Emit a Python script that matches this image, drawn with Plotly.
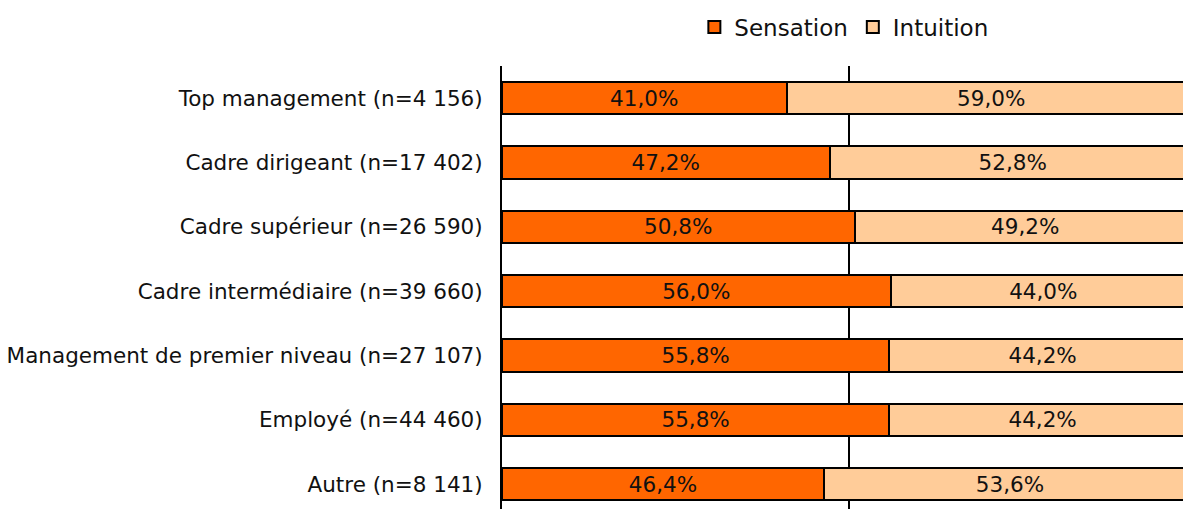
import plotly.graph_objects as go

categories = [
    "Top management (n=4 156)",
    "Cadre dirigeant (n=17 402)",
    "Cadre supérieur (n=26 590)",
    "Cadre intermédiaire (n=39 660)",
    "Management de premier niveau (n=27 107)",
    "Employé (n=44 460)",
    "Autre (n=8 141)",
]
sensation = [41.0, 47.2, 50.8, 56.0, 55.8, 55.8, 46.4]
intuition = [59.0, 52.8, 49.2, 44.0, 44.2, 44.2, 53.6]


def pct(values):
    return [f"{v:.1f}%".replace(".", ",") for v in values]


FONT = "DejaVu Sans, Verdana, sans-serif"
TXT = 21.5

fig = go.Figure()
fig.add_trace(go.Bar(
    name="Sensation", y=categories, x=sensation, orientation="h",
    marker=dict(color="#FF6600", line=dict(color="#000000", width=2)),
    text=pct(sensation), textposition="inside", insidetextanchor="middle",
    textfont=dict(color="#111111", size=TXT, family=FONT),
))
fig.add_trace(go.Bar(
    name="Intuition", y=categories, x=intuition, orientation="h",
    marker=dict(color="#FFCC99", line=dict(color="#000000", width=2)),
    text=pct(intuition), textposition="inside", insidetextanchor="middle",
    textfont=dict(color="#111111", size=TXT, family=FONT),
))

fig.update_layout(
    width=1183, height=509,
    margin=dict(l=502, r=0, t=66, b=0, pad=0),
    barmode="stack", bargap=0.5,
    plot_bgcolor="white", paper_bgcolor="white",
    font=dict(family=FONT, size=TXT, color="#111111"),
    legend=dict(
        orientation="h", traceorder="normal",
        x=0.502, xanchor="center",
        yref="container", y=1 - 27 / 509, yanchor="middle",
        font=dict(size=23, family=FONT, color="#111111"),
        itemwidth=30, tracegroupgap=0,
    ),
    xaxis=dict(
        range=[0, 98.13], tickvals=[50], showticklabels=False,
        showgrid=True, gridcolor="#000000", gridwidth=2,
        zeroline=False, showline=False, fixedrange=True,
    ),
    yaxis=dict(
        categoryorder="array", categoryarray=categories,
        range=[6.386, -0.5], showline=True, linecolor="#000000", linewidth=2,
        ticks="", ticklabelstandoff=13, showgrid=False,
        tickfont=dict(size=TXT, family=FONT, color="#111111"),
    ),
)

fig.write_html("out.html")
